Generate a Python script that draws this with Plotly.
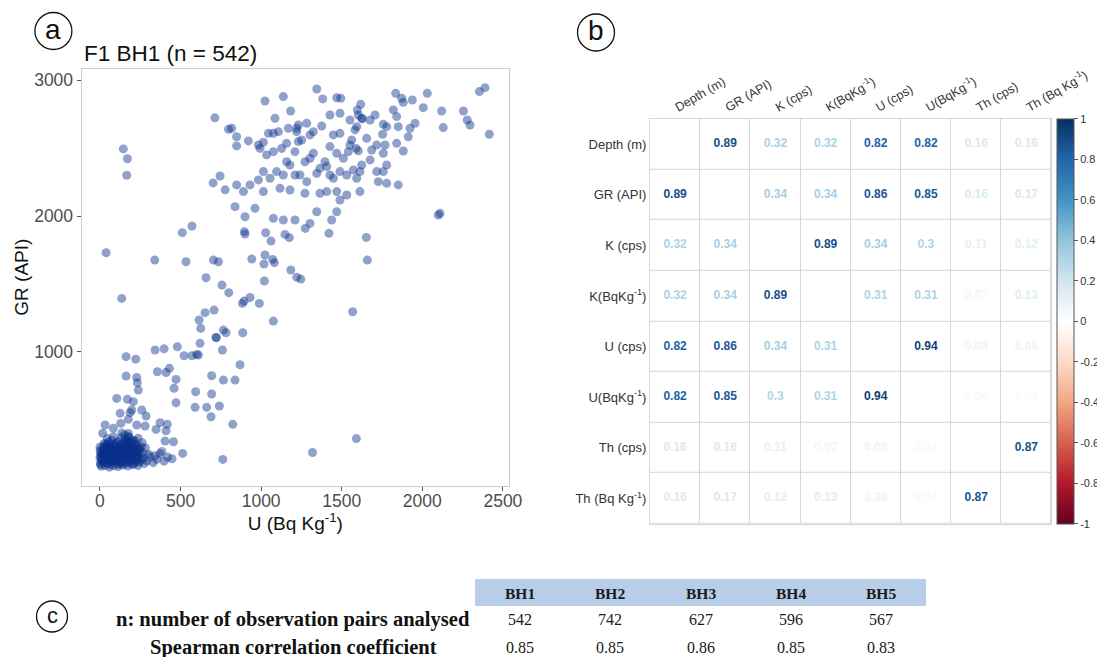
import plotly.graph_objects as go
from plotly.colors import sample_colorscale

# ---------------- Panel (a): U (Bq/kg) vs GR (API), borehole F1 BH1 ----------------
upper_cloud = [
    (1345,2935),(1024,2847),(1138,2879),(1382,2862),(1469,2871),(1494,2867),(1618,2822),(1835,2903),
    (1872,2867),(1882,2837),(1938,2854),(2031,2903),(2006,2798),(2120,2773),(2255,2773),(2130,2651),
    (2279,2707),(2296,2670),(2416,2602),(2354,2916),(2389,2945),
    (1086,2719),(1183,2773),(1283,2683),(1231,2670),(1221,2621),(1324,2621),(1303,2597),(1376,2663),
    (1427,2744),(1489,2756),(1448,2597),(1489,2609),(1551,2707),(1597,2781),(1603,2744),(1624,2720),
    (1628,2716),(1583,2634),(1593,2658),(1676,2707),(1707,2744),(1758,2675),(1779,2658),(1754,2602),
    (1820,2781),(1841,2732),(1851,2658),(1924,2646),(1955,2683),(1913,2584),
    (848,2584),(848,2516),(817,2646),(921,2553),(983,2523),(1014,2543),(1045,2609),(1076,2609),
    (1107,2621),(1169,2646),(1221,2646),(1231,2548),(1252,2560),(1210,2474),(1158,2535),(1127,2498),
    (1076,2474),(1034,2450),(993,2498),(1324,2462),(1303,2425),(1272,2400),(1427,2511),(1469,2462),
    (1396,2400),(1365,2351),(1510,2425),(1541,2474),(1551,2523),(1562,2560),(1589,2498),(1603,2480),
    (1655,2572),(1686,2486),(1717,2523),(1758,2462),(1769,2523),(1841,2535),(1882,2479),(1779,2376),
    (1758,2327),(1717,2327),(1676,2413),(1624,2376),(1613,2327),(1593,2278),(1572,2339),(1531,2302),
    (1489,2327),(1448,2278),(1427,2302),(1407,2364),(1345,2314),(1283,2253),(1241,2302),(1210,2302),
    (1179,2376),(1158,2400),(1138,2302),(1096,2327),(1055,2278),(1014,2327),(983,2266),(931,2229),
    (890,2180),(848,2229),(1014,2180),(1117,2204),(1179,2192),(1272,2167),(1365,2167),(1407,2180),
    (1469,2180),(1489,2118),(1531,2155),(1613,2180),(1727,2253),(1779,2241),(1851,2229),(838,2069),
    (900,1995),(962,2057),(1076,1983),(1138,1971),(1210,1971),(1303,1946),(1345,2032),(1469,2032),
    (1438,1971),(2100,2008),(2110,2020),
    (713,2723),(798,2639),(145,2494),(170,2422),(166,2300),(745,2295),(702,2244),(777,2193),
]

middle_band = [
    (896,1885),(900,1868),(1274,1909),(1421,1873),(1653,1843),(1659,1676),(1028,1877),(1061,1816),
    (1148,1865),(1175,1841),(571,1927),(511,1878),(38,1730),(340,1676),(534,1664),(704,1676),
    (735,1664),(942,1684),(1024,1713),(1018,1647),(1072,1681),(1082,1657),(1184,1603),(1221,1549),
    (1246,1536),(1020,1522),(658,1546),(757,1492),(799,1436),(135,1394),(884,1357),(894,1374),
    (931,1401),(989,1357),(708,1308),(652,1289),(615,1235),(625,1173),(1568,1296),(1076,1227),
    (766,1161),(782,1141),(720,1107),(722,1104),(886,1141),(621,1063),(760,1014),(342,1014),
    (398,1023),(480,1038),(162,965),(222,947),(522,972),(571,972),(600,982),(611,977),(869,906),
    (356,854),(410,849),(431,879),(162,822),(228,812),(693,825),(472,798),(766,793),(838,793),
]

lower_band = [
    (232,774),(238,720),(460,732),(594,707),(693,690),(472,626),(590,592),(662,592),(741,602),
    (689,523),(824,467),(104,658),(170,651),(207,634),(197,573),(187,553),(125,548),(259,573),
    (286,528),(32,462),(83,438),(129,474),(176,504),(228,462),(280,455),(373,479),(418,467),
    (348,430),(410,420),(17,401),(83,376),(176,376),(166,352),(404,344),(456,339),(513,253),
    (762,209),(1319,260),(1591,362),
]

low_cluster = [
    (8,158),(32,165),(58,152),(84,162),(112,156),(138,168),(172,160),(204,171),(236,163),
    (2,182),(22,188),(47,176),(71,191),(96,180),(127,186),(152,177),(183,193),(214,181),(243,189),
    (275,178),(330,185),
    (12,204),(37,198),(61,211),(86,202),(104,214),(131,199),(158,208),(191,201),(226,213),(258,205),
    (291,198),(352,210),(398,196),
    (0,222),(26,229),(51,218),(77,233),(99,225),(121,219),(146,231),(171,224),(199,217),(236,230),
    (268,221),(310,228),(420,226),(447,214),
    (14,241),(41,250),(66,238),(89,247),(114,254),(136,240),(161,249),(186,243),(209,252),(251,239),
    (302,247),(341,236),(372,251),
    (5,262),(30,270),(56,258),(81,266),(96,273),(125,261),(151,268),(176,257),(196,272),(231,264),
    (266,259),(384,268),
    (21,281),(45,292),(70,278),(86,287),(110,294),(141,283),(165,290),(191,279),(216,288),(246,282),
    (282,293),
    (0,301),(36,309),(61,298),(91,316),(121,304),(150,312),(172,299),(181,318),(206,307),(226,314),
    (256,302),
    (26,327),(52,336),(86,323),(117,341),(143,330),(168,338),(193,325),(217,344),(262,332),
    (46,362),(72,350),(131,368),(158,355),(181,372),(206,350),(237,365),
]

cluster_core = [
    (4,171),(19,194),(43,186),(66,172),(91,193),(118,174),(141,191),(166,184),(196,176),(228,196),
    (9,213),(31,217),(57,226),(82,214),(108,207),(133,226),(157,219),(182,210),(207,228),(233,219),
    (3,236),(24,244),(48,233),(73,252),(101,238),(126,247),(149,236),(174,246),(197,238),(222,247),
    (11,254),(38,263),(63,249),(88,258),(113,267),(139,254),(163,262),(187,267),(212,259),(238,271),
    (1,276),(28,285),(54,272),(79,298),(104,281),(130,292),(156,277),(180,286),(204,294),(229,279),
    (16,296),(43,304),(69,313),(98,302),(134,309),(160,320),(188,305),(214,321),(240,296),
    (33,318),(58,322),(102,331),(126,318),(152,297),(178,332),(198,342),(154,389),(136,404),(176,400),
]

scatter_title = "F1 BH1 (n = 542)"
x_ticks = [0, 500, 1000, 1500, 2000, 2500]
y_ticks = [1000, 2000, 3000]

# ---------------- Panel (b): correlation matrix ----------------
var_labels = ["Depth (m)", "GR (API)", "K (cps)", "K(BqKg<sup>-1</sup>)", "U (cps)",
              "U(BqKg<sup>-1</sup>)", "Th (cps)", "Th (Bq Kg<sup>-1</sup>)"]
corr_rows = [
    [None, 0.89, 0.32, 0.32, 0.82, 0.82, 0.16, 0.16],
    [0.89, None, 0.34, 0.34, 0.86, 0.85, 0.16, 0.17],
    [0.32, 0.34, None, 0.89, 0.34, 0.30, 0.11, 0.12],
    [0.32, 0.34, 0.89, None, 0.31, 0.31, 0.07, 0.13],
    [0.82, 0.86, 0.34, 0.31, None, 0.94, 0.08, 0.08],
    [0.82, 0.85, 0.30, 0.31, 0.94, None, 0.04, 0.04],
    [0.16, 0.16, 0.11, 0.07, 0.08, 0.04, None, 0.87],
    [0.16, 0.17, 0.12, 0.13, 0.08, 0.04, 0.87, None],
]
cbar_ticks = [1, 0.8, 0.6, 0.4, 0.2, 0, -0.2, -0.4, -0.6, -0.8, -1]
corr_palette = ["#67001F", "#B2182B", "#D6604D", "#F4A582", "#FDDBC7", "#FFFFFF",
                "#D1E5F0", "#92C5DE", "#4393C3", "#2166AC", "#053061"]

# ---------------- Panel (c): table ----------------
table_cols = ["BH1", "BH2", "BH3", "BH4", "BH5"]
table_rows = ["n: number of observation pairs analysed", "Spearman correlation coefficient"]
n_pairs = [542, 742, 627, 596, 567]
spearman = [0.85, 0.85, 0.86, 0.85, 0.83]

# =====================================================================
W, H = 1097, 657
def px(x):  # horizontal pixel -> paper
    return x / W
def py(y):  # vertical pixel (from top) -> paper
    return 1 - y / H

points = upper_cloud + middle_band + lower_band + low_cluster + cluster_core
u_vals = [p[0] for p in points]
gr_vals = [p[1] for p in points]

fig = go.Figure()

fig.add_trace(go.Scatter(
    x=u_vals, y=gr_vals, mode="markers",
    marker=dict(size=9, color="rgb(8,48,140)", opacity=0.45, line=dict(width=0)),
    xaxis="x", yaxis="y", showlegend=False, hoverinfo="skip"))

# correlation matrix grid
n = len(var_labels)
idx = list(range(n))
corr_scale = [[i / (len(corr_palette) - 1), c] for i, c in enumerate(corr_palette)]
fig.add_trace(go.Heatmap(z=[[0] * n for _ in idx], x=idx, y=idx,
                         colorscale=[[0, "#D6D6D6"], [1, "#D6D6D6"]], showscale=False,
                         hoverinfo="skip", xaxis="x2", yaxis="y2"))
fig.add_trace(go.Heatmap(z=[[0] * n for _ in idx], x=idx, y=idx, xgap=1, ygap=1,
                         colorscale=[[0, "white"], [1, "white"]], showscale=False,
                         hoverinfo="skip", xaxis="x2", yaxis="y2"))

tx, ty, tt, tc = [], [], [], []
for r, row in enumerate(corr_rows):
    for c, v in enumerate(row):
        if v is None:
            continue
        tx.append(c); ty.append(r); tt.append(f"{v:g}")
        tc.append(sample_colorscale(corr_scale, [(v + 1) / 2])[0])
fig.add_trace(go.Scatter(x=tx, y=ty, text=tt, mode="text",
                         textfont=dict(family="Liberation Sans", size=12, color=tc, weight="bold"),
                         xaxis="x2", yaxis="y2", showlegend=False, hoverinfo="skip"))

fig.add_trace(go.Scatter(
    x=[0, 0], y=[0, 0], mode="markers", xaxis="x2", yaxis="y2", showlegend=False, hoverinfo="skip",
    marker=dict(size=1, opacity=0, color=[-1, 1], cmin=-1, cmax=1, colorscale=corr_scale,
                showscale=True,
                colorbar=dict(x=px(1057), xanchor="left", y=py(321.3), yanchor="middle",
                              len=405, lenmode="pixels", thickness=16.5, xpad=0, ypad=0,
                              outlinewidth=1, outlinecolor="#555",
                              tickvals=cbar_ticks, ticktext=[f"{t:g}" for t in cbar_ticks],
                              ticks="outside", ticklen=4, tickcolor="#555",
                              tickfont=dict(family="Liberation Sans", size=11, color="#333")))))

axis_common = dict(showgrid=False, zeroline=False, showline=True, mirror=True)

# table layout (pixel geometry)
col_x0, col_step = 520, 90.3
header_y, row_y = 593, [619, 647]
label_x = 293
annotations = [
    dict(text=scatter_title, x=px(81.6), y=py(53.4), xref="paper", yref="paper",
         xanchor="left", yanchor="middle", showarrow=False, font=dict(size=22.5, color="#111")),
    dict(text="a", x=px(53.4), y=py(29), xref="paper", yref="paper", showarrow=False,
         xanchor="center", yanchor="middle", font=dict(size=28, color="#111")),
    dict(text="b", x=px(596), y=py(31), xref="paper", yref="paper", showarrow=False,
         xanchor="center", yanchor="middle", font=dict(size=28, color="#111")),
    dict(text="c", x=px(52), y=py(615), xref="paper", yref="paper", showarrow=False,
         xanchor="center", yanchor="middle", font=dict(size=22, color="#111")),
]
serif = "Liberation Serif"
for i, name in enumerate(table_cols):
    cx = px(col_x0 + i * col_step)
    annotations.append(dict(text=f"<b>{name}</b>", x=cx, y=py(header_y), xref="paper", yref="paper",
                            showarrow=False, xanchor="center", yanchor="middle",
                            font=dict(family=serif, size=15.5, color="#1a1a1a")))
    for ry, val in zip(row_y, [str(n_pairs[i]), f"{spearman[i]:g}"]):
        annotations.append(dict(text=val, x=cx, y=py(ry), xref="paper", yref="paper",
                                showarrow=False, xanchor="center", yanchor="middle",
                                font=dict(family=serif, size=16, color="#1a1a1a")))
for ry, lab in zip(row_y, table_rows):
    annotations.append(dict(text=f"<b>{lab}</b>", x=px(label_x), y=py(ry), xref="paper", yref="paper",
                            showarrow=False, xanchor="center", yanchor="middle",
                            font=dict(family=serif, size=20.5, color="#111")))

fig.update_layout(
    width=W, height=H, margin=dict(l=0, r=0, t=0, b=0, autoexpand=False),
    paper_bgcolor="white", plot_bgcolor="white", showlegend=False,
    font=dict(family="Liberation Sans", color="#222"),
    xaxis=dict(domain=[px(81.6), px(509)], range=[-114, 2538], tickvals=x_ticks,
               ticks="outside", ticklen=4, tickcolor="#555", linecolor="#CCCCCC", linewidth=1,
               tickfont=dict(size=17.5, color="#4D4D4D"), ticklabelstandoff=-5,
               title=dict(text="U (Bq Kg<sup>-1</sup>)", font=dict(size=19, color="#111"), standoff=2),
               anchor="y", automargin=False, **axis_common),
    yaxis=dict(domain=[py(485.5), py(68.9)], range=[17, 3083], tickvals=y_ticks,
               ticks="outside", ticklen=4, tickcolor="#555", linecolor="#CCCCCC", linewidth=1,
               tickfont=dict(size=17.5, color="#4D4D4D"),
               title=dict(text="GR (API)", font=dict(size=19, color="#111"), standoff=0),
               anchor="x", automargin=False, **axis_common),
    xaxis2=dict(domain=[px(650), px(1051.4)], range=[-0.5, n - 0.5], side="top", anchor="y2",
                tickvals=idx, ticktext=var_labels, tickangle=-30, ticks="", automargin=False,
                linecolor="#D6D6D6", tickfont=dict(size=12.5, color="#333"), **axis_common),
    yaxis2=dict(domain=[py(523.8), py(118.8)], range=[n - 0.5, -0.5], anchor="x2",
                tickvals=idx, ticktext=var_labels, ticks="", automargin=False,
                linecolor="#D6D6D6", tickfont=dict(size=13, color="#333"), **axis_common),
    annotations=annotations,
    shapes=[
        dict(type="rect", xref="paper", yref="paper", x0=px(475), x1=px(926),
             y0=py(606), y1=py(579), fillcolor="#B7CDE8", line=dict(width=0), layer="below"),
        dict(type="circle", xref="paper", yref="paper", x0=px(34.9), x1=px(71.9),
             y0=py(49.5), y1=py(12.5), line=dict(color="#111", width=1.3)),
        dict(type="circle", xref="paper", yref="paper", x0=px(577.5), x1=px(614.5),
             y0=py(51), y1=py(14), line=dict(color="#111", width=1.3)),
        dict(type="circle", xref="paper", yref="paper", x0=px(36.5), x1=px(67.5),
             y0=py(632), y1=py(601), line=dict(color="#111", width=1.3)),
    ],
)

fig.write_html("out.html")
